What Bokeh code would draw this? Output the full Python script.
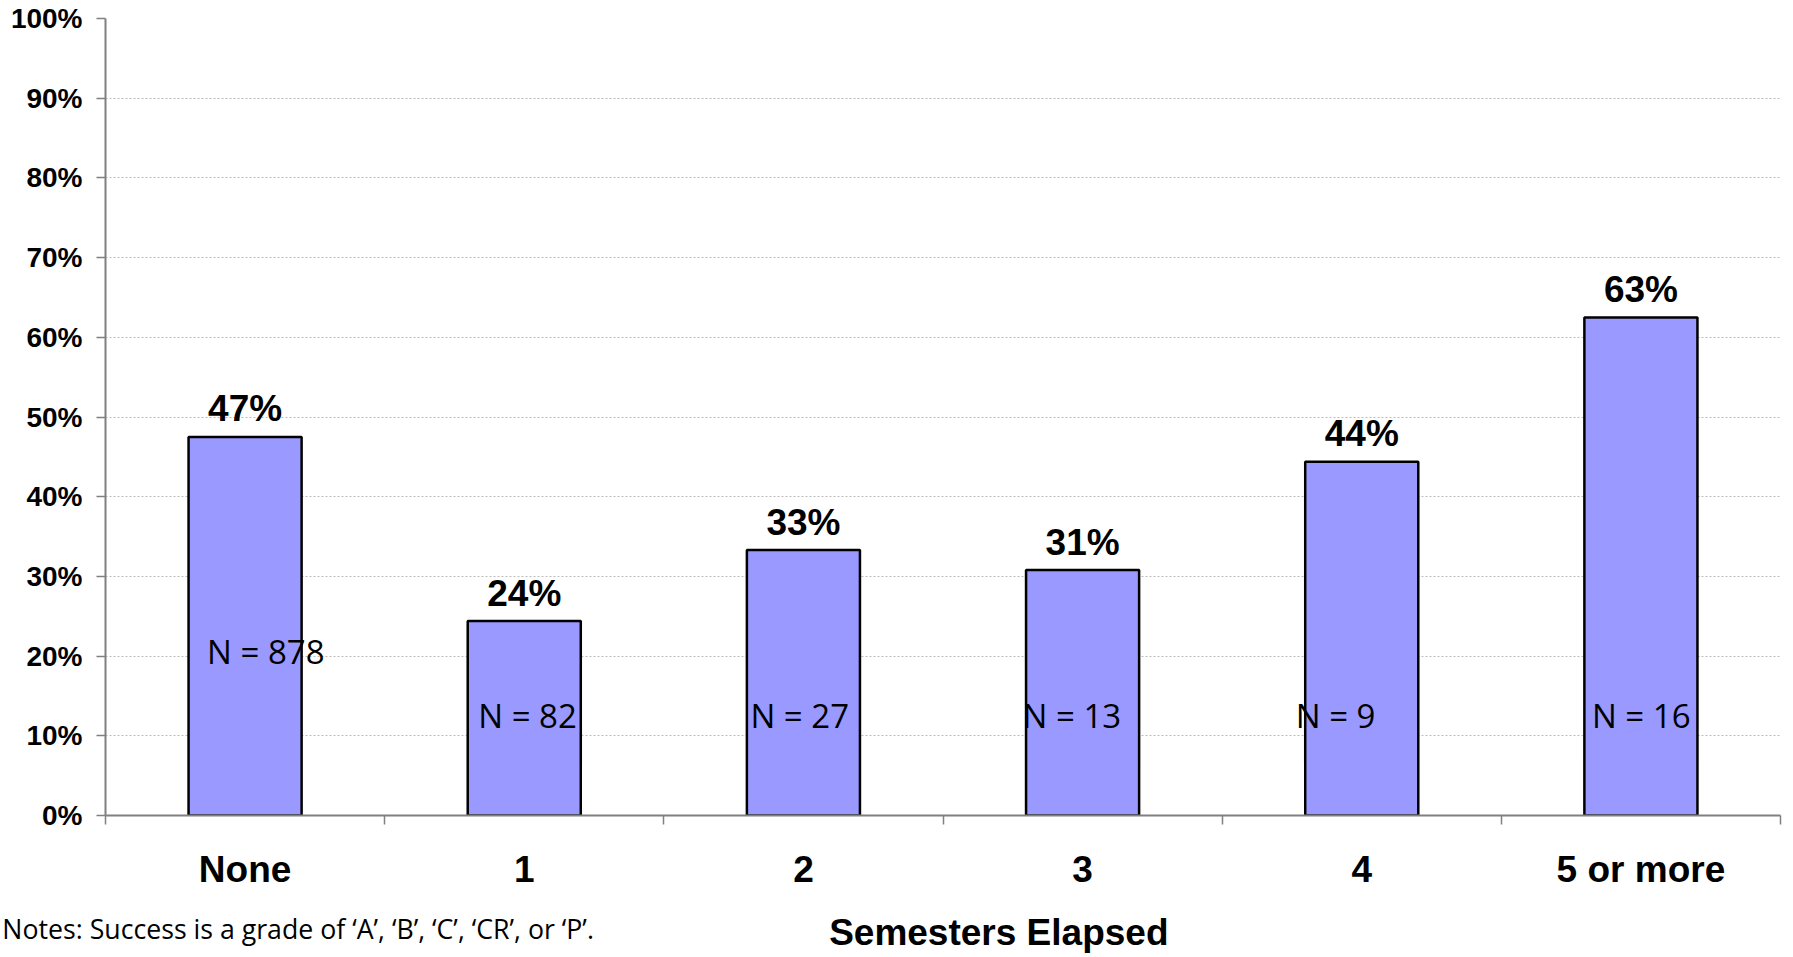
import numpy as np
from bokeh.plotting import figure
from bokeh.models import (Range1d, FixedTicker, NumeralTickFormatter, LinearAxis,
                          ColumnDataSource)
from bokeh.core.properties import value
from bokeh.embed import file_html
from bokeh.resources import INLINE

# ---------------- data ----------------
categories = ["None", "1", "2", "3", "4", "5 or more"]
success_rate = [0.475, 0.244, 0.333, 0.308, 0.444, 0.625]
rate_labels = ["47%", "24%", "33%", "31%", "44%", "63%"]
n_labels = ["N = 878", "N = 82", "N = 27", "N = 13", "N = 9", "N = 16"]
y_ticks = [0.0, 0.1, 0.2, 0.3, 0.4, 0.5, 0.6, 0.7, 0.8, 0.9, 1.0]
x_axis_title = "Semesters Elapsed"
note_text = "Notes: Success is a grade of \u2018A\u2019, \u2018B\u2019, \u2018C\u2019, \u2018CR\u2019, or \u2018P\u2019."

# ---------------- styles ----------------
n_label_dx = [-38, -46, -53, -60, -66, -49]        # pixel offsets of N labels
n_label_dy = [-164, -100, -100, -100, -100, -100]  # pixel offsets above baseline
BAR_COLOR = "#9999FF"
AXIS_GRAY = "#808080"
ARIAL = value("Liberation Sans")
NOTE_X = 0.69    # horizontal anchor (x units) of the notes line
TITLE_X = 3.2    # horizontal anchor (x units) of the axis title

centers = [i + 0.5 for i in range(len(categories))]
bounds = [float(i) for i in range(len(categories) + 1)]

src = ColumnDataSource(dict(
    x=centers, top=success_rate, rate=rate_labels, n=n_labels,
    zero=[0.0] * len(categories), dx=n_label_dx, dy=n_label_dy,
))

W, H = 1785, 957
p = figure(width=W, height=H, output_backend="svg", toolbar_location=None,
           x_range=Range1d(0, len(categories)), y_range=Range1d(0, 1),
           min_border_left=105, min_border_right=5, min_border_top=18,
           min_border_bottom=142)
p.outline_line_color = None
p.background_fill_color = "white"

# bars
p.vbar(x="x", top="top", bottom=0, width=0.405, source=src,
       fill_color=BAR_COLOR, line_color="black", line_width=2.5)

# percentage labels above bars
p.text(x="x", y="top", text="rate", source=src, text_align="center",
       text_baseline="alphabetic", y_offset=-28, text_font=ARIAL,
       text_font_style="bold", text_font_size="37px", text_color="black")

# N labels inside bars
p.text(x="x", y="zero", text="n", source=src, text_align="left",
       text_baseline="middle", x_offset="dx", y_offset="dy",
       text_font=value("Open Sans"), text_font_size="33px", text_color="black")

# y axis
p.yaxis.ticker = FixedTicker(ticks=y_ticks)
p.yaxis.formatter = NumeralTickFormatter(format="0%")
p.yaxis.major_label_text_font = "Liberation Sans"
p.yaxis.major_label_text_font_style = "bold"
p.yaxis.major_label_text_font_size = "28px"
p.yaxis.major_label_text_color = "black"
p.yaxis.major_label_standoff = 14
p.yaxis.major_tick_out = 9
p.yaxis.major_tick_in = 0
p.yaxis.minor_tick_line_color = None
p.yaxis.axis_line_color = AXIS_GRAY
p.yaxis.axis_line_width = 2
p.yaxis.major_tick_line_color = AXIS_GRAY
p.yaxis.major_tick_line_width = 1.5

# x axis: labels at category centres, ticks at category boundaries
xa = p.xaxis[0]
xa.ticker = FixedTicker(ticks=centers, minor_ticks=bounds)
xa.major_label_overrides = {c: lab for c, lab in zip(centers, categories)}
xa.major_tick_line_color = None
xa.major_tick_out = 0
xa.major_tick_in = 0
xa.minor_tick_out = 9
xa.minor_tick_in = 0
xa.minor_tick_line_color = AXIS_GRAY
xa.minor_tick_line_width = 1.5
xa.axis_line_color = AXIS_GRAY
xa.axis_line_width = 2
xa.major_label_text_font = "Liberation Sans"
xa.major_label_text_font_style = "bold"
xa.major_label_text_font_size = "37px"
xa.major_label_text_color = "black"
xa.major_label_standoff = 24


def text_row(x, txt, font, size, style, standoff):
    ax = LinearAxis(ticker=FixedTicker(ticks=[x], minor_ticks=[]),
                    major_label_overrides={x: txt})
    ax.axis_line_color = None
    ax.major_tick_line_color = None
    ax.minor_tick_line_color = None
    ax.major_tick_out = 0
    ax.major_tick_in = 0
    ax.minor_tick_out = 0
    ax.minor_tick_in = 0
    ax.major_label_text_font = font
    ax.major_label_text_font_style = style
    ax.major_label_text_font_size = size
    ax.major_label_text_color = "black"
    try:
        ax.major_label_standoff = standoff
    except Exception:
        ax.major_label_standoff = 0
    return ax


# notes line and axis title (overlapping band below the category labels)
p.add_layout(text_row(NOTE_X, note_text, "Open Sans", "26.7px", "normal", 17), "below")
p.add_layout(text_row(TITLE_X, x_axis_title, "Liberation Sans", "37px", "bold", -38), "below")

# grid
p.xgrid.grid_line_color = None
p.ygrid.ticker = FixedTicker(ticks=y_ticks)
p.ygrid.grid_line_color = "#bcbcbc"
p.ygrid.grid_line_width = 1
p.ygrid.grid_line_dash = "2 2"

open("out.html", "w").write(file_html(p, INLINE))
